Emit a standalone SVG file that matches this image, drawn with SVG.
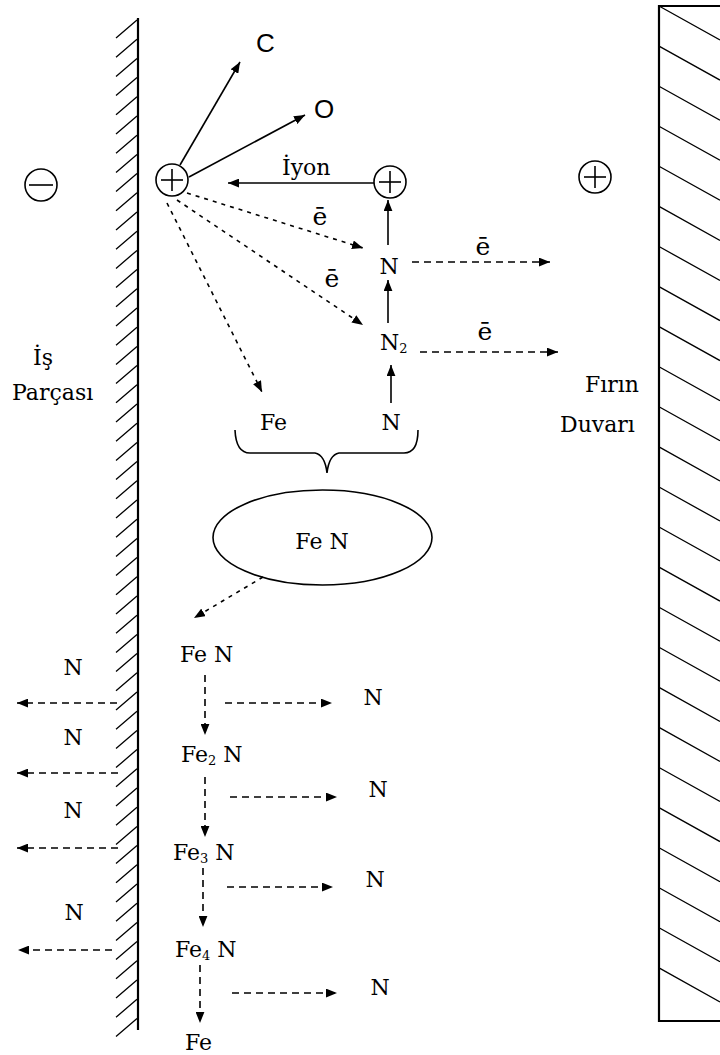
<svg xmlns="http://www.w3.org/2000/svg" width="720" height="1055" viewBox="0 0 720 1055">
<style>
.t{font-family:"DejaVu Serif","Liberation Serif",serif;font-size:22px;fill:#000}
.e{font-family:"DejaVu Serif","Liberation Serif",serif;font-size:25px;fill:#000}
.s{font-family:"Liberation Sans",Arial,sans-serif;font-size:26px;fill:#000}
.sub{font-size:13px}
.ln{stroke:#000;stroke-width:1.6;fill:none}
.dl{stroke:#000;stroke-width:1.6;fill:none;stroke-dasharray:7 5}
.dd{stroke:#000;stroke-width:1.6;fill:none;stroke-dasharray:4 5}
.wall{stroke:#000;stroke-width:2.2;fill:none}
.hat{stroke:#000;stroke-width:1.3;fill:none}
.circ{stroke:#000;stroke-width:1.6;fill:#fff}
</style>
<defs>
<marker id="ah" viewBox="0 0 10 8" refX="10" refY="4" markerWidth="11" markerHeight="9" markerUnits="userSpaceOnUse" orient="auto">
<path d="M0,0 L10,4 L0,8 z" fill="#000"/>
</marker>
</defs>
<rect width="720" height="1055" fill="#fff"/>

<g id="workpiece-wall">
<line class="wall" x1="138" y1="18" x2="138" y2="1030"/>
<path class="hat" d="M137,20 l-21,18 M137,39.2 l-21,18 M137,58.4 l-21,18 M137,77.6 l-21,18 M137,96.8 l-21,18 M137,116 l-21,18 M137,135.2 l-21,18 M137,154.4 l-21,18 M137,173.6 l-21,18 M137,192.8 l-21,18 M137,212 l-21,18 M137,231.2 l-21,18 M137,250.4 l-21,18 M137,269.6 l-21,18 M137,288.8 l-21,18 M137,308 l-21,18 M137,327.2 l-21,18 M137,346.4 l-21,18 M137,365.6 l-21,18 M137,384.8 l-21,18 M137,404 l-21,18 M137,423.2 l-21,18 M137,442.4 l-21,18 M137,461.6 l-21,18 M137,480.8 l-21,18 M137,500 l-21,18 M137,519.2 l-21,18 M137,538.4 l-21,18 M137,557.6 l-21,18 M137,576.8 l-21,18 M137,596 l-21,18 M137,615.2 l-21,18 M137,634.4 l-21,18 M137,653.6 l-21,18 M137,672.8 l-21,18 M137,692 l-21,18 M137,711.2 l-21,18 M137,730.4 l-21,18 M137,749.6 l-21,18 M137,768.8 l-21,18 M137,788 l-21,18 M137,807.2 l-21,18 M137,826.4 l-21,18 M137,845.6 l-21,18 M137,864.8 l-21,18 M137,884 l-21,18 M137,903.2 l-21,18 M137,922.4 l-21,18 M137,941.6 l-21,18 M137,960.8 l-21,18 M137,980 l-21,18 M137,999.2 l-21,18 M137,1018.4 l-21,18"/>
</g>

<g id="furnace-wall">
<path class="wall" d="M722,6 H659 V1021 H722"/>
<path class="hat" d="M659,6 l61,34 M659,46.1 l61,34 M659,86.2 l61,34 M659,126.2 l61,34 M659,166.3 l61,34 M659,206.4 l61,34 M659,246.5 l61,34 M659,286.6 l61,34 M659,326.6 l61,34 M659,366.7 l61,34 M659,406.8 l61,34 M659,446.9 l61,34 M659,487 l61,34 M659,527 l61,34 M659,567.1 l61,34 M659,607.2 l61,34 M659,647.3 l61,34 M659,687.4 l61,34 M659,727.4 l61,34 M659,767.5 l61,34 M659,807.6 l61,34 M659,847.7 l61,34 M659,887.8 l61,34 M659,927.8 l61,34 M659,967.9 l61,34"/>
</g>

<g id="connectors">
<line class="ln" x1="180" y1="165" x2="240" y2="62" marker-end="url(#ah)"/>
<line class="ln" x1="189" y1="177" x2="305" y2="115" marker-end="url(#ah)"/>
<line class="ln" x1="374" y1="183" x2="228" y2="183" marker-end="url(#ah)"/>
<line class="dd" x1="187" y1="193" x2="363" y2="248" marker-end="url(#ah)"/>
<line class="dd" x1="177" y1="200" x2="363" y2="325" marker-end="url(#ah)"/>
<line class="dd" x1="167" y1="203" x2="262" y2="392" marker-end="url(#ah)"/>
<line class="ln" x1="388" y1="245" x2="388" y2="200" marker-end="url(#ah)"/>
<line class="ln" x1="388" y1="323" x2="388" y2="280" marker-end="url(#ah)"/>
<line class="ln" x1="391" y1="403" x2="391" y2="365" marker-end="url(#ah)"/>
<line class="dl" x1="412" y1="262" x2="550" y2="262" marker-end="url(#ah)"/>
<line class="dl" x1="420" y1="352" x2="558" y2="352" marker-end="url(#ah)"/>
<line class="dd" x1="263" y1="577" x2="194" y2="618" marker-end="url(#ah)"/>
<line class="dl" x1="205" y1="675" x2="205" y2="735" marker-end="url(#ah)"/>
<line class="dl" x1="205" y1="777" x2="205" y2="837" marker-end="url(#ah)"/>
<line class="dl" x1="203" y1="868" x2="203" y2="927" marker-end="url(#ah)"/>
<line class="dl" x1="200" y1="965" x2="200" y2="1023" marker-end="url(#ah)"/>
<line class="dl" x1="225" y1="703" x2="332" y2="703" marker-end="url(#ah)"/>
<line class="dl" x1="230" y1="797" x2="337" y2="797" marker-end="url(#ah)"/>
<line class="dl" x1="227" y1="887" x2="333" y2="887" marker-end="url(#ah)"/>
<line class="dl" x1="232" y1="993" x2="337" y2="993" marker-end="url(#ah)"/>
<line class="dl" x1="117" y1="703" x2="17" y2="703" marker-end="url(#ah)"/>
<line class="dl" x1="118" y1="773" x2="17" y2="773" marker-end="url(#ah)"/>
<line class="dl" x1="118" y1="848" x2="17" y2="848" marker-end="url(#ah)"/>
<line class="dl" x1="112" y1="950" x2="18" y2="950" marker-end="url(#ah)"/>
<path class="ln" d="M235,430 Q236,453 250,453 L315,453 Q325,455 327,473 Q329,455 339,453 L404,453 Q418,453 418,430"/>
</g>

<g id="cathode-sign">
<circle class="circ" cx="41" cy="185" r="16"/>
<line class="ln" x1="29" y1="185" x2="53" y2="185"/>
</g>
<g id="ion-left">
<circle class="circ" cx="172" cy="180" r="16"/>
<line class="ln" x1="161" y1="180" x2="183" y2="180"/>
<line class="ln" x1="172" y1="169" x2="172" y2="191"/>
</g>
<g id="ion-right">
<circle class="circ" cx="390" cy="182" r="16"/>
<line class="ln" x1="379" y1="182" x2="401" y2="182"/>
<line class="ln" x1="390" y1="171" x2="390" y2="193"/>
</g>
<g id="anode-sign">
<circle class="circ" cx="595" cy="177" r="16"/>
<line class="ln" x1="584" y1="177" x2="606" y2="177"/>
<line class="ln" x1="595" y1="166" x2="595" y2="188"/>
</g>

<g id="label-c"><text class="s" x="256" y="52">C</text></g>
<g id="label-o"><text class="s" x="314" y="118">O</text></g>
<g id="label-iyon"><text class="t" x="282" y="175">İyon</text></g>
<g id="labels-e">
<text class="e" x="320" y="225" text-anchor="middle">ē</text>
<text class="e" x="332" y="287" text-anchor="middle">ē</text>
<text class="e" x="483" y="255" text-anchor="middle">ē</text>
<text class="e" x="485" y="340" text-anchor="middle">ē</text>
</g>
<g id="node-n-top"><text class="t" x="389" y="274" text-anchor="middle">N</text></g>
<g id="node-n2"><text class="t" x="380" y="350">N<tspan class="sub" dy="3">2</tspan></text></g>
<g id="node-n-bottom"><text class="t" x="391" y="430" text-anchor="middle">N</text></g>
<g id="node-fe"><text class="t" x="260" y="430">Fe</text></g>

<g id="node-fen-ellipse">
<ellipse class="ln" cx="322.5" cy="537.5" rx="109.5" ry="47.5"/>
<text class="t" x="322" y="549" text-anchor="middle">Fe  N</text>
</g>

<g id="chain-fen"><text class="t" x="180" y="662">Fe N</text></g>
<g id="chain-fe2n"><text class="t" x="181" y="762">Fe<tspan class="sub" dy="3">2</tspan><tspan dy="-3">  N</tspan></text></g>
<g id="chain-fe3n"><text class="t" x="173" y="860">Fe<tspan class="sub" dy="3">3</tspan><tspan dy="-3">  N</tspan></text></g>
<g id="chain-fe4n"><text class="t" x="175" y="957">Fe<tspan class="sub" dy="3">4</tspan><tspan dy="-3"> N</tspan></text></g>
<g id="chain-fe"><text class="t" x="185" y="1050">Fe</text></g>

<g id="left-n">
<text class="t" x="73" y="675" text-anchor="middle">N</text>
<text class="t" x="73" y="745" text-anchor="middle">N</text>
<text class="t" x="73" y="818" text-anchor="middle">N</text>
<text class="t" x="74" y="920" text-anchor="middle">N</text>
</g>
<g id="right-n">
<text class="t" x="373" y="705" text-anchor="middle">N</text>
<text class="t" x="378" y="797" text-anchor="middle">N</text>
<text class="t" x="375" y="887" text-anchor="middle">N</text>
<text class="t" x="380" y="995" text-anchor="middle">N</text>
</g>

<g id="label-workpiece">
<text class="t" x="33" y="365">İş</text>
<text class="t" x="12" y="400">Parçası</text>
</g>
<g id="label-furnace">
<text class="t" x="585" y="392">Fırın</text>
<text class="t" x="560" y="432">Duvarı</text>
</g>
</svg>
